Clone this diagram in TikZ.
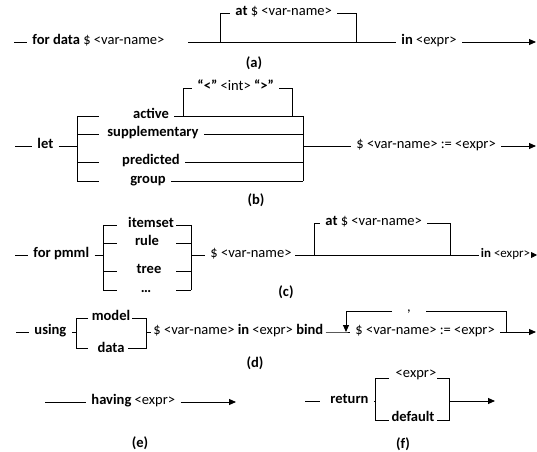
\documentclass[tikz,border=0pt]{standalone}
\usepackage{fontspec}
\setmainfont{Carlito}
\usepackage{tikz}
\usetikzlibrary{arrows.meta}

\begin{document}
\begin{tikzpicture}[x=1bp,y=-1bp,line width=0.9bp,
	txt/.style={inner xsep=5bp,inner ysep=1bp,anchor=mid west,font=\fontsize{14.6}{16}\selectfont},
	mtxt/.style={txt,anchor=mid},
	lbl/.style={font=\fontsize{14.6}{16}\selectfont\bfseries},
	go/.style={-{Triangle[length=7bp,width=6bp]}}]

				\useasboundingbox (0,0) rectangle (537,452);

				% (a) for data
				\coordinate(a0) at (14,42);
				\coordinate(a2) at (188,42);
				\coordinate(aL) at (220,42);
				\coordinate(aR) at (356,42);
				\coordinate(a4) at (536,42);
				\node[txt] (fordata) at (27,42) {\textbf{for data} \$ <var-name>};
				\node[txt] (aat) at (230,13) {\textbf{at} \$ <var-name>};
				\node[txt] (ain) at (396,42) {\textbf{in} <expr>};
				\node[lbl] (la) at (254,63) {(a)};
				\draw (a0)--(fordata.mid west);
				\draw (a2)--(ain.mid west);
				\draw (aL)|-(aat.mid west);
				\draw (aat.mid east)-|(aR);
				\draw[go] (ain.mid east)--(a4);

				% (b) let
				\coordinate(b0) at (15,146);
				\coordinate(bLm) at (77,146);
				\coordinate(bRm) at (303,146);
				\coordinate(bA) at (183,116);
				\coordinate(bB) at (292,116);
				\coordinate(b4) at (536,146);
				\node[txt] (let) at (32,146) {\textbf{let}};
				\node[mtxt] (active) at (151,116) {\textbf{active}};
				\node[mtxt] (supp) at (153,134) {\textbf{supplementary}};
				\node[mtxt] (pred) at (151,162) {\textbf{predicted}};
				\node[mtxt] (group) at (148,181) {\textbf{group}};
				\node[txt] (blt) at (192,88) {\textbf{“<”} <int> \textbf{“>”}};
				\node[txt] (bvar) at (351,146) {\$ <var-name> := <expr>};
				\node[lbl] (lb) at (256,200) {(b)};
				\foreach \n/\y in {active/116,supp/134,pred/162,group/181}{
					\coordinate(bl-\n) at (77,\y);
					\coordinate(bs-\n) at (99,\y);
					\coordinate(br-\n) at (303,\y);
					\draw (bl-\n)--(bs-\n);
					\draw (\n.mid east)--(br-\n);
				}
				\draw (bl-active)--(bl-group);
				\draw (br-active)--(br-group);
				\draw (b0)--(let.mid west);
				\draw (let.mid east)--(bLm);
				\draw (bA)|-(blt.mid west);
				\draw (blt.mid east)-|(bB);
				\draw (bRm)--(bvar.mid west);
				\draw[go] (bvar.mid east)--(b4);

				% (c) for pmml
				\coordinate(c0) at (15,255);
				\coordinate(cLm) at (103,255);
				\coordinate(cRm) at (191,255);
				\coordinate(c2) at (295,255);
				\coordinate(cL) at (314,255);
				\coordinate(cR) at (450,255);
				\coordinate(c4) at (537,255);
				\node[txt] (pmml) at (28,255) {\textbf{for pmml}};
				\node[mtxt] (itemset) at (151,225) {\textbf{itemset}};
				\node[mtxt] (rule) at (147,243) {\textbf{rule}};
				\node[mtxt] (tree) at (149,271) {\textbf{tree}};
				\node[mtxt] (dots) at (146,290) {\textbf{…}};
				\node[txt] (cvar) at (205,255) {\$ <var-name>};
				\node[txt] (cat) at (320,223) {\textbf{at} \$ <var-name>};
				\node[txt,inner xsep=1.5bp,font=\fontsize{13}{15}\selectfont] (cin) at (479,255) {\textbf{in} <expr>};
				\node[lbl] (lc) at (286,292) {(c)};
				\foreach \n/\y in {itemset/225,rule/243,tree/271,dots/290}{
					\coordinate(cl-\n) at (103,\y);
					\coordinate(cs-\n) at (117,\y);
					\coordinate(ct-\n) at (176,\y);
					\coordinate(cr-\n) at (191,\y);
					\draw (cl-\n)--(cs-\n);
					\draw (ct-\n)--(cr-\n);
				}
				\draw (cl-itemset)--(cl-dots);
				\draw (cr-itemset)--(cr-dots);
				\draw (c0)--(pmml.mid west);
				\draw (pmml.mid east)--(cLm);
				\draw (cRm)--(cvar.mid west);
				\draw (c2)--(cin.mid west);
				\draw (cL)|-(cat.mid west);
				\draw (cat.mid east)-|(cR);
				\draw[-{Triangle[length=6bp,width=6bp]}] (cin.mid east)--(c4);

				% (d) using
				\coordinate(d0) at (16,332);
				\coordinate(dLt) at (76,318);
				\coordinate(dLm) at (76,332);
				\coordinate(dLb) at (76,348);
				\coordinate(dSt) at (88,318);
				\coordinate(dSb) at (88,348);
				\coordinate(dTt) at (132,318);
				\coordinate(dTb) at (128,348);
				\coordinate(dRt) at (146,318);
				\coordinate(dRm) at (146,332);
				\coordinate(dRb) at (146,348);
				\coordinate(dJ) at (346,332);
				\coordinate(dR) at (506,332);
				\coordinate(d4) at (536,332);
				\node[txt] (using) at (29,332) {\textbf{using}};
				\node[mtxt] (model) at (111,318) {\textbf{model}};
				\node[mtxt] (data) at (111,350) {\textbf{data}};
				\node[txt,inner xsep=2bp] (dvar) at (151,332) {\$ <var-name> \textbf{in} <expr> \textbf{bind}};
				\node[txt] (dbind) at (350,332) {\$ <var-name> := <expr>};
				\node[mtxt,inner xsep=0pt,minimum width=33bp] (comma) at (409,309) {,};
				\node[lbl] (ld) at (255,363) {(d)};
				\draw (d0)--(using.mid west);
				\draw (using.mid east)--(dLm);
				\draw (dSt)--(dLt)--(dLb)--(dSb);
				\draw (dTt)--(dRt)--(dRb)--(dTb);
				\draw (dRm)--(dvar.mid west);
				\draw (dvar.mid east)--(dJ)--(dbind.mid west);
				\draw (dR)|-(comma.east);
				\draw[go] (comma.west)-|(dJ);
				\draw[go] (dbind.mid east)--(d4);

				% (e) having
				\coordinate(e0) at (45,402);
				\coordinate(e4) at (236,402);
				\node[txt] (having) at (86,402) {\textbf{having} <expr>};
				\node[lbl] (le) at (140,443) {(e)};
				\draw (e0)--(having.mid west);
				\draw[go] (having.mid east)--(e4);

				% (f) return
				\coordinate(f0) at (305,401);
				\coordinate(f1) at (320,401);
				\coordinate(fLt) at (375,378);
				\coordinate(fLm) at (375,401);
				\coordinate(fLb) at (375,420);
				\coordinate(fSt) at (389,378);
				\coordinate(fSb) at (389,420);
				\coordinate(fTt) at (437,378);
				\coordinate(fTb) at (437,420);
				\coordinate(fRt) at (449,378);
				\coordinate(fRm) at (449,401);
				\coordinate(fRb) at (449,420);
				\coordinate(f4) at (495,401);
				\node[txt] (return) at (325,401) {\textbf{return}};
				\node[mtxt] (fexpr) at (416,375) {<expr>};
				\node[mtxt] (default) at (413,419) {\textbf{default}};
				\node[lbl] (lf) at (403,444) {(f)};
				\draw (f0)--(f1);
				\draw (return.mid east)--(fLm);
				\draw (fSt)--(fLt)--(fLb)--(fSb);
				\draw (fTt)--(fRt)--(fRb)--(fTb);
				\draw[go] (fRm)--(f4);
			\end{tikzpicture}
\end{document}
